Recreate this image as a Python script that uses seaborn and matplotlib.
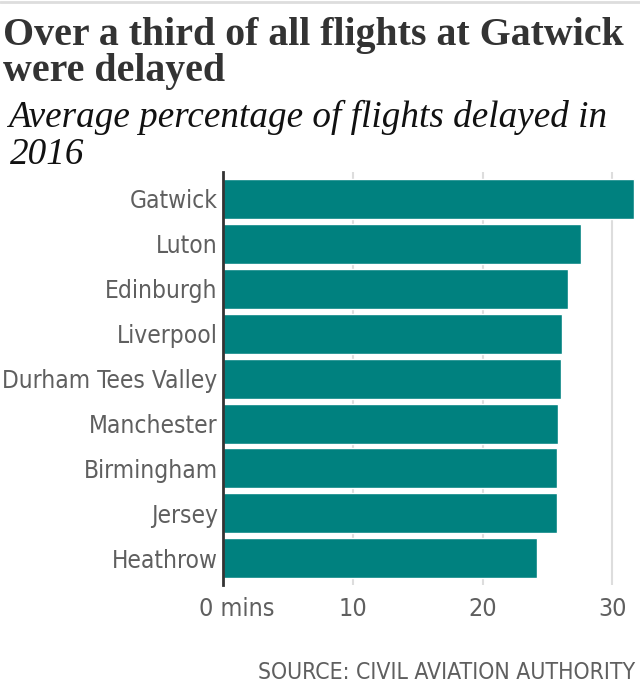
import matplotlib
matplotlib.use("Agg")
import matplotlib.pyplot as plt
import matplotlib.transforms as mtransforms
from matplotlib.lines import Line2D
import seaborn as sns
import pandas as pd

# ---------------------------------------------------------
# DATA
# ---------------------------------------------------------

airports = [
    "Gatwick", "Luton", "Edinburgh", "Liverpool", "Durham Tees Valley",
    "Manchester", "Birmingham", "Jersey", "Heathrow",
]
delay_mins = [31.7, 27.6, 26.6, 26.1, 26.05, 25.8, 25.75, 25.7, 24.2]

x_ticks = [0, 10, 20, 30]
x_tick_labels = ["0 mins", "10", "20", "30"]

df = pd.DataFrame({"Airport": airports, "Delay": delay_mins})

# ---------------------------------------------------------
# STYLE
# ---------------------------------------------------------

sns.set_style("white")
plt.rcParams["font.family"] = ["DejaVu Sans"]
plt.rcParams["font.stretch"] = "condensed"

teal = "#00817f"
grey_text = "#5f5f5f"

fig = plt.figure(figsize=(6.4, 6.95), dpi=100)
ax = fig.add_axes([223.3 / 640, 1 - 585 / 695, 1 - 223.3 / 640, 413 / 695])

sns.barplot(
    data=df,
    x="Delay",
    y="Airport",
    color=teal,
    width=0.89,
    saturation=1,
    ax=ax
)

ax.set_xlim(0, 32.13)
ax.set_ylim(8.595, -0.60)

ax.set_xticks(x_ticks)
ax.set_xticklabels(x_tick_labels, fontsize=18, color=grey_text)
ax.tick_params(axis="x", length=0, pad=9)
ax.tick_params(axis="y", length=0, pad=4, labelsize=17.6, labelcolor=grey_text)

# shift "0 mins" to the right like the reference
first = ax.get_xticklabels()[0]
first.set_transform(first.get_transform() + mtransforms.ScaledTranslation(13 / 100, 0, fig.dpi_scale_trans))

ax.set_xlabel("")
ax.set_ylabel("")

ax.grid(axis="x", color="#dddddd", linewidth=1.5, zorder=0)
ax.set_axisbelow(True)

for side in ["top", "right", "bottom"]:
    ax.spines[side].set_visible(False)
ax.spines["left"].set_color("#333333")
ax.spines["left"].set_linewidth(2)

# ---------------------------------------------------------
# TEXT
# ---------------------------------------------------------

fig.add_artist(Line2D([0, 1], [1 - 2 / 695, 1 - 2 / 695], color="#dddddd", linewidth=2))

serif = ["Liberation Serif", "DejaVu Serif"]

fig.text(3 / 640, 1 - 45 / 695, "Over a third of all flights at Gatwick",
         fontsize=28.7, fontweight="bold", color="#333333",
         family=serif, stretch="normal", va="baseline")
fig.text(3 / 640, 1 - 81 / 695, "were delayed",
         fontsize=28.7, fontweight="bold", color="#333333",
         family=serif, stretch="normal", va="baseline")

fig.text(8 / 640, 1 - 127 / 695, "Average percentage of flights delayed in",
         fontsize=26.7, style="italic", color="#111111",
         family=serif, stretch="normal", va="baseline")
fig.text(10 / 640, 1 - 164 / 695, "2016",
         fontsize=26.7, style="italic", color="#111111",
         family=serif, stretch="normal", va="baseline")

fig.text(635 / 640, 1 - 679 / 695, "SOURCE: CIVIL AVIATION AUTHORITY",
         fontsize=16.5, color=grey_text, ha="right", va="baseline")

fig.savefig("out.png", dpi=100)
